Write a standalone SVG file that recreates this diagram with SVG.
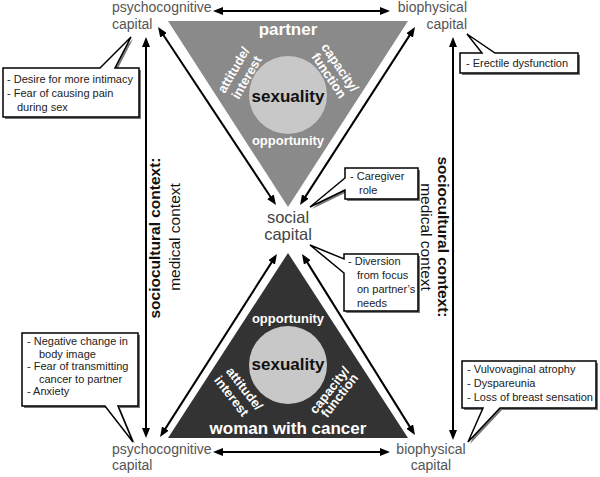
<svg xmlns="http://www.w3.org/2000/svg" width="600" height="477" viewBox="0 0 600 477">
<defs>
<style>
text{font-family:"Liberation Sans",Arial,sans-serif}
.lbl{font-size:14px;fill:#555}
.soc{font-size:16.5px;fill:#444;text-anchor:middle}
.tw{font-weight:bold;fill:#fff;text-anchor:middle}
.sx{font-size:17px;font-weight:bold;fill:#111;text-anchor:middle}
.ctx{font-size:15.5px;fill:#111;text-anchor:middle}
.b{font-weight:bold}
.bx{font-size:11px;fill:#222}
.arr{stroke:#000;stroke-width:2;fill:none;marker-start:url(#ah);marker-end:url(#ah)}
.co{fill:#fff;stroke:#000;stroke-width:1.5;stroke-linejoin:miter}
.sh{fill:#777}
</style>
<marker id="ah" viewBox="0 0 10 8" markerWidth="10" markerHeight="8" refX="3" refY="4" orient="auto-start-reverse" markerUnits="userSpaceOnUse">
<path d="M0,0 L10,4 L0,8 z" fill="#000"/>
</marker>
</defs>
<rect width="600" height="477" fill="#fff"/>

<g id="partner">
<polygon points="168,21 408,21 288,207" fill="#8a8a8a"/>
<circle cx="288" cy="95" r="39" fill="#c8c8c8"/>
<text class="tw" x="288" y="35" font-size="17">partner</text>
<text class="sx" x="288" y="102">sexuality</text>
<text class="tw" x="288" y="145" font-size="13">opportunity</text>
<text class="tw" font-size="13" transform="translate(237.4,72.2) rotate(-60)">attitude/</text>
<text class="tw" font-size="13" transform="translate(250.4,79.7) rotate(-60)">interest</text>
<text class="tw" font-size="13" transform="translate(336.3,70) rotate(56)">capacity/</text>
<text class="tw" font-size="13" transform="translate(325.3,78) rotate(56)">function</text>
</g>

<g id="woman">
<polygon points="288,253 168,438 408,438" fill="#333"/>
<circle cx="288" cy="365" r="39" fill="#c8c8c8"/>
<text class="tw" x="288" y="323" font-size="13">opportunity</text>
<text class="sx" x="288" y="370">sexuality</text>
<text class="tw" font-size="13" transform="translate(241,391.3) rotate(52)">attitude/</text>
<text class="tw" font-size="13" transform="translate(228,398.8) rotate(52)">interest</text>
<text class="tw" font-size="13" transform="translate(333,392.8) rotate(-52)">capacity/</text>
<text class="tw" font-size="13" transform="translate(343,398.3) rotate(-52)">function</text>
<text class="tw" x="288" y="434" font-size="17">woman with cancer</text>
</g>

<g id="connectors">
<line class="arr" x1="220" y1="11" x2="383" y2="11"/>
<line class="arr" x1="220" y1="452" x2="383" y2="452"/>
<line class="arr" x1="146" y1="44" x2="146" y2="431"/>
<line class="arr" x1="453" y1="44" x2="453" y2="433"/>
<line class="arr" x1="161.9" y1="32.8" x2="272.1" y2="199.2"/>
<line class="arr" x1="411.2" y1="32.9" x2="303.8" y2="199.1"/>
<line class="arr" x1="273.2" y1="259.9" x2="163.8" y2="431.1"/>
<line class="arr" x1="305.7" y1="259.9" x2="411.3" y2="429.1"/>
</g>

<g id="psycho-top">
<text class="lbl" x="112" y="12">psychocognitive</text>
<text class="lbl" x="112" y="29">capital</text>
</g>
<g id="bio-top">
<text class="lbl" x="467" y="12" text-anchor="end">biophysical</text>
<text class="lbl" x="467" y="29" text-anchor="end">capital</text>
</g>
<g id="social">
<text class="soc" x="288" y="223">social</text>
<text class="soc" x="288" y="240">capital</text>
</g>
<g id="psycho-bottom">
<text class="lbl" x="112" y="454">psychocognitive</text>
<text class="lbl" x="112" y="470">capital</text>
</g>
<g id="bio-bottom">
<text class="lbl" x="431" y="454" text-anchor="middle">biophysical</text>
<text class="lbl" x="431" y="470" text-anchor="middle">capital</text>
</g>

<g id="context-left">
<text class="ctx b" transform="translate(160,238) rotate(-90)">sociocultural context:</text>
<text class="ctx" transform="translate(180,237) rotate(-90)">medical context</text>
</g>
<g id="context-right">
<text class="ctx b" transform="translate(438,237) rotate(90)">sociocultural context:</text>
<text class="ctx" transform="translate(421,237) rotate(90)">medical context</text>
</g>

<g id="box-partner-psycho">
<path class="sh" transform="translate(2,2)" d="M3,68 H100 L131,37 L115,68 H139 V117 H3 Z"/>
<path class="co" d="M3,68 H100 L131,37 L115,68 H139 V117 H3 Z"/>
<text class="bx" x="7" y="83">- Desire for more intimacy</text>
<text class="bx" x="7" y="97">- Fear of causing pain</text>
<text class="bx" x="17" y="111">during sex</text>
</g>
<g id="box-partner-bio">
<path class="sh" transform="translate(2,2)" d="M460,53 H482 L467,34 L495,53 H578 V73 H460 Z"/>
<path class="co" d="M460,53 H482 L467,34 L495,53 H578 V73 H460 Z"/>
<text class="bx" x="466" y="67">- Erectile dysfunction</text>
</g>
<g id="box-caregiver">
<path class="sh" transform="translate(2,2)" d="M345,168 H418 V199 H345 V190 L310,207 L345,178 Z"/>
<path class="co" d="M345,168 H418 V199 H345 V190 L310,207 L345,178 Z"/>
<text class="bx" x="350" y="180">- Caregiver</text>
<text class="bx" x="359" y="194">role</text>
</g>
<g id="box-diversion">
<path class="sh" transform="translate(2,2)" d="M344,254 H418 V311 H344 V273 L310,245 L344,259 Z"/>
<path class="co" d="M344,254 H418 V311 H344 V273 L310,245 L344,259 Z"/>
<text class="bx" x="348" y="265">- Diversion</text>
<text class="bx" x="357" y="279">from focus</text>
<text class="bx" x="357" y="293">on partner’s</text>
<text class="bx" x="357" y="307">needs</text>
</g>
<g id="box-woman-psycho">
<path class="sh" transform="translate(2,2)" d="M22,333 H138 V406 H118 L133,442 L105,406 H22 Z"/>
<path class="co" d="M22,333 H138 V406 H118 L133,442 L105,406 H22 Z"/>
<text class="bx" x="27" y="345">- Negative change in</text>
<text class="bx" x="39" y="358">body image</text>
<text class="bx" x="27" y="370">- Fear of transmitting</text>
<text class="bx" x="39" y="383">cancer to partner</text>
<text class="bx" x="27" y="395">- Anxiety</text>
</g>
<g id="box-woman-bio">
<path class="sh" transform="translate(2,2)" d="M462,361 H596 V408 H500 L468,442 L483,408 H462 Z"/>
<path class="co" d="M462,361 H596 V408 H500 L468,442 L483,408 H462 Z"/>
<text class="bx" x="467" y="373">- Vulvovaginal atrophy</text>
<text class="bx" x="467" y="387">- Dyspareunia</text>
<text class="bx" x="467" y="401">- Loss of breast sensation</text>
</g>
</svg>
